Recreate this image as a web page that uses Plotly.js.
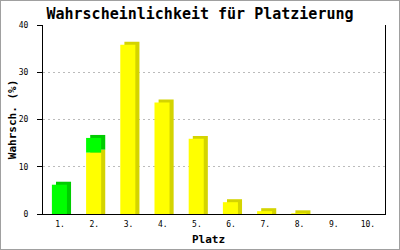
<!DOCTYPE html>
<html><head><meta charset="utf-8">
<script src="https://cdn.plot.ly/plotly-3.0.1.min.js"></script>
<style>body{margin:0;background:#fff}#wrap{position:relative;width:400px;height:250px}#frame{position:absolute;left:0;top:0;width:398px;height:248px;border:1px solid #a0a0a0;pointer-events:none}</style>
</head><body>
<div id="wrap"><div id="chart" style="width:400px;height:250px"></div><div id="frame"></div></div>
<script>
const places = ["1.","2.","3.","4.","5.","6.","7.","8.","9.","10."];
const yellowVals = [0, 13.0, 35.8, 23.6, 15.9, 2.5, 0.6, 0.15, 0, 0];
const greenVals  = [6.2, 3.1, 0, 0, 0, 0, 0, 0, 0, 0];
const yTicks = [0, 10, 20, 30, 40];

const depth = 0.63;   // 3D extrusion height in data units (style)
const W = 0.44, OFF = -0.24, SHIFT = 0.12;

// side faces: lowest segment reaches down to the axis
const ySideTop = yellowVals.map(v => v > 0 ? v + depth : 0);
const gSideBase = yellowVals.map(v => v > 0 ? v + depth : 0);
const gSideH = greenVals.map((g, i) => g > 0 ? (yellowVals[i] + g + depth) - gSideBase[i] : 0);

const common = {type:'bar', x: places, width: W, hoverinfo:'skip'};
const traces = [
  Object.assign({}, common, {y: ySideTop, base: yellowVals.map(()=>0), offset: OFF+SHIFT, marker:{color:'#d4d400', line:{width:0}}}),
  Object.assign({}, common, {y: gSideH, base: gSideBase, offset: OFF+SHIFT, marker:{color:'#00cc00', line:{width:0}}}),
  Object.assign({}, common, {y: yellowVals, base: yellowVals.map(()=>0), offset: OFF, marker:{color:'#ffff00', line:{width:0}}}),
  Object.assign({}, common, {y: greenVals, base: yellowVals.slice(), offset: OFF, marker:{color:'#00ff00', line:{width:0}}})
];

const mono = 'DejaVu Sans Mono, Liberation Mono, monospace';
const layout = {
  width: 400, height: 250,
  margin: {l: 43, r: 15, t: 25, b: 36},
  paper_bgcolor: '#fff', plot_bgcolor: '#fff',
  barmode: 'overlay', showlegend: false,
  title: {text: '<b>Wahrscheinlichkeit für Platzierung</b>', font: {family: mono, size: 15, color: '#000'}, x: 0.5, xanchor: 'center', y: 0.946, yanchor: 'middle'},
  xaxis: {type: 'category', range: [-0.5, 9.5], showline: true, linecolor: '#000', linewidth: 1,
    ticks: '', showgrid: false, zeroline: false, ticklabelstandoff: 2,
    tickfont: {family: mono, size: 8, color: '#000'}},
  yaxis: {range: [0, 40], tickvals: yTicks, ticktext: yTicks.map(String), showline: true, mirror: true, linecolor: '#000', linewidth: 1,
    ticks: 'outside', ticklen: 5, tickcolor: '#000', zeroline: false, ticklabelstandoff: 7,
    showgrid: true, gridcolor: '#bbbbbb', griddash: '2px,3px', gridwidth: 1,
    tickfont: {family: mono, size: 8, color: '#000'}},
  annotations: [
    {text: '<b>Platz</b>', xref: 'paper', yref: 'paper', x: (208-43)/342, y: -(239.5-214)/189, xanchor: 'center', yanchor: 'middle', showarrow: false, font: {family: mono, size: 11, color: '#000'}},
    {text: '<b>Wahrsch. (%)</b>', xref: 'paper', yref: 'paper', x: -(43-12.7)/342, y: 0.5, xanchor: 'center', yanchor: 'middle', textangle: -90, showarrow: false, font: {family: mono, size: 11, color: '#000'}}
  ]
};
Plotly.newPlot('chart', traces, layout, {displayModeBar: false, staticPlot: true});
</script>
</body></html>
